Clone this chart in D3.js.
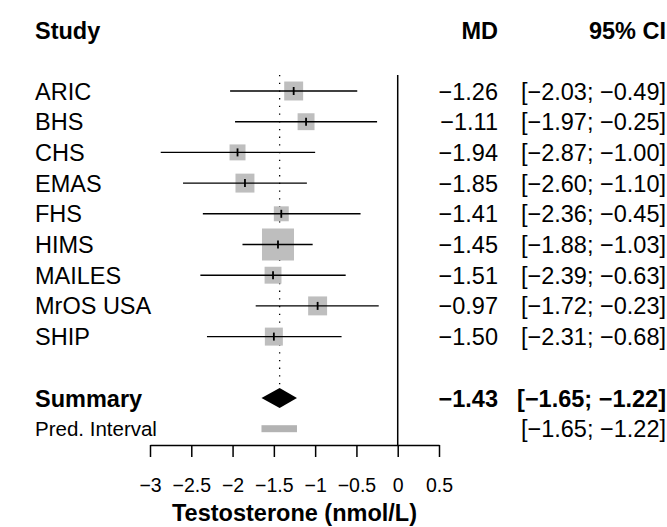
<!DOCTYPE html>
<html>
<head>
<meta charset="utf-8">
<script src="https://cdn.jsdelivr.net/npm/d3@7"></script>
<style>
  body { margin: 0; background: #fff; }
  svg text { font-family: "Liberation Sans", Arial, Helvetica, sans-serif; fill: #000; }
</style>
</head>
<body>
<script>
// study data
var studies = ["ARIC", "BHS", "CHS", "EMAS", "FHS", "HIMS", "MAILES", "MrOS USA", "SHIP"];
var md      = [-1.26, -1.11, -1.94, -1.85, -1.41, -1.45, -1.51, -0.97, -1.50];
var lower   = [-2.03, -1.97, -2.87, -2.60, -2.36, -1.88, -2.39, -1.72, -2.31];
var upper   = [-0.49, -0.25, -1.00, -1.10, -0.45, -1.03, -0.63, -0.23, -0.68];
var weights = [10.3, 8.2, 7.3, 10.3, 6.4, 29.4, 8.2, 10.3, 9.3]; // from square sizes

var summary = [-1.43, -1.65, -1.22];   // estimate, lower, upper
var predInterval = [-1.65, -1.22];
var tickValues = [-3, -2.5, -2, -1.5, -1, -0.5, 0, 0.5];

var width = 667, height = 527;
var fs = 23.5;

var svg = d3.select("body").append("svg")
    .attr("width", width)
    .attr("height", height);

// scales
var x = d3.scaleLinear().domain([-3, 0.5]).range([150, 439]);
var y = d3.scaleLinear().domain([0, 11]).range([91, 428.7]); // row index -> centre
var size = d3.scaleSqrt().domain([0, 29.4]).range([0, 32]);
var fmt = d3.format(".2f");

var rows = studies.map(function(s, i) {
  return {study: s, md: md[i], lo: lower[i], hi: upper[i], w: weights[i], row: i};
});

// headers
var hy = 39;
svg.append("text").attr("x", 35).attr("y", hy).attr("font-size", fs).attr("font-weight", "bold").text("Study");
svg.append("text").attr("x", 498).attr("y", hy).attr("font-size", fs).attr("font-weight", "bold")
    .attr("text-anchor", "end").text("MD");
svg.append("text").attr("x", 666).attr("y", hy).attr("font-size", fs).attr("font-weight", "bold")
    .attr("text-anchor", "end").text("95% CI");

// line of no effect
svg.append("line")
    .attr("x1", x(0)).attr("x2", x(0))
    .attr("y1", 75).attr("y2", 445)
    .attr("stroke", "#000").attr("stroke-width", 1.5);

// summary dotted line
svg.append("line")
    .attr("x1", x(summary[0])).attr("x2", x(summary[0]))
    .attr("y1", 75).attr("y2", y(10) - 10)
    .attr("stroke", "#000").attr("stroke-width", 1.3)
    .attr("stroke-dasharray", "1.3,6.4");

// study rows
var g = svg.selectAll(".study")
    .data(rows)
  .enter().append("g")
    .attr("class", "study");

g.append("rect")
    .attr("x", function(d) { return x(d.md) - size(d.w) / 2; })
    .attr("y", function(d) { return y(d.row) - size(d.w) / 2; })
    .attr("width", function(d) { return size(d.w); })
    .attr("height", function(d) { return size(d.w); })
    .attr("fill", "#bebebe");

g.append("line")
    .attr("x1", function(d) { return x(d.lo); })
    .attr("x2", function(d) { return x(d.hi); })
    .attr("y1", function(d) { return y(d.row); })
    .attr("y2", function(d) { return y(d.row); })
    .attr("stroke", "#000").attr("stroke-width", 1.4);

g.append("line")
    .attr("x1", function(d) { return x(d.md); })
    .attr("x2", function(d) { return x(d.md); })
    .attr("y1", function(d) { return y(d.row) - 4; })
    .attr("y2", function(d) { return y(d.row) + 4; })
    .attr("stroke", "#000").attr("stroke-width", 1.8);

g.append("text")
    .attr("x", 35)
    .attr("y", function(d) { return y(d.row) + 8.5; })
    .attr("font-size", fs)
    .text(function(d) { return d.study; });

g.append("text")
    .attr("x", 498)
    .attr("y", function(d) { return y(d.row) + 8.5; })
    .attr("font-size", fs)
    .attr("text-anchor", "end")
    .text(function(d) { return fmt(d.md); });

g.append("text")
    .attr("x", 666)
    .attr("y", function(d) { return y(d.row) + 8.5; })
    .attr("font-size", fs)
    .attr("text-anchor", "end")
    .text(function(d) { return "[" + fmt(d.lo) + "; " + fmt(d.hi) + "]"; });

// summary diamond
var sy = y(10);
svg.append("path")
    .attr("d", "M" + x(summary[1]) + "," + sy +
               "L" + x(summary[0]) + "," + (sy - 10) +
               "L" + x(summary[2]) + "," + sy +
               "L" + x(summary[0]) + "," + (sy + 10) + "Z")
    .attr("fill", "#000");

svg.append("text").attr("x", 35).attr("y", sy + 8.5).attr("font-size", fs)
    .attr("font-weight", "bold").text("Summary");
svg.append("text").attr("x", 498).attr("y", sy + 8.5).attr("font-size", fs)
    .attr("font-weight", "bold").attr("text-anchor", "end").text(fmt(summary[0]));
svg.append("text").attr("x", 666).attr("y", sy + 8.5).attr("font-size", fs)
    .attr("font-weight", "bold").attr("text-anchor", "end")
    .text("[" + fmt(summary[1]) + "; " + fmt(summary[2]) + "]");

// prediction interval
var py = y(11);
svg.append("rect")
    .attr("x", x(predInterval[0]))
    .attr("y", py - 3.5)
    .attr("width", x(predInterval[1]) - x(predInterval[0]))
    .attr("height", 7)
    .attr("fill", "#b3b3b3");

svg.append("text").attr("x", 35).attr("y", py + 7.5).attr("font-size", 20.5).text("Pred. Interval");
svg.append("text").attr("x", 666).attr("y", py + 8.5).attr("font-size", fs)
    .attr("text-anchor", "end")
    .text("[" + fmt(predInterval[0]) + "; " + fmt(predInterval[1]) + "]");

// x axis
var xAxis = d3.axisBottom(x)
    .tickValues(tickValues)
    .tickFormat(d3.format(""))
    .tickSize(12)
    .tickSizeOuter(0)
    .tickPadding(21);

var ax = svg.append("g")
    .attr("transform", "translate(0,445)")
    .call(xAxis);
ax.select(".domain").attr("stroke", "#000").attr("stroke-width", 1.5);
ax.selectAll(".tick line").attr("stroke", "#000").attr("stroke-width", 1.5);
ax.selectAll(".tick text")
    .attr("font-size", 19.5)
    .attr("font-family", "Liberation Sans, Arial, sans-serif")
    .attr("fill", "#000");

svg.append("text")
    .attr("x", (x(-3) + x(0.5)) / 2)
    .attr("y", 521)
    .attr("font-size", fs)
    .attr("font-weight", "bold")
    .attr("text-anchor", "middle")
    .text("Testosterone (nmol/L)");
</script>
</body>
</html>
